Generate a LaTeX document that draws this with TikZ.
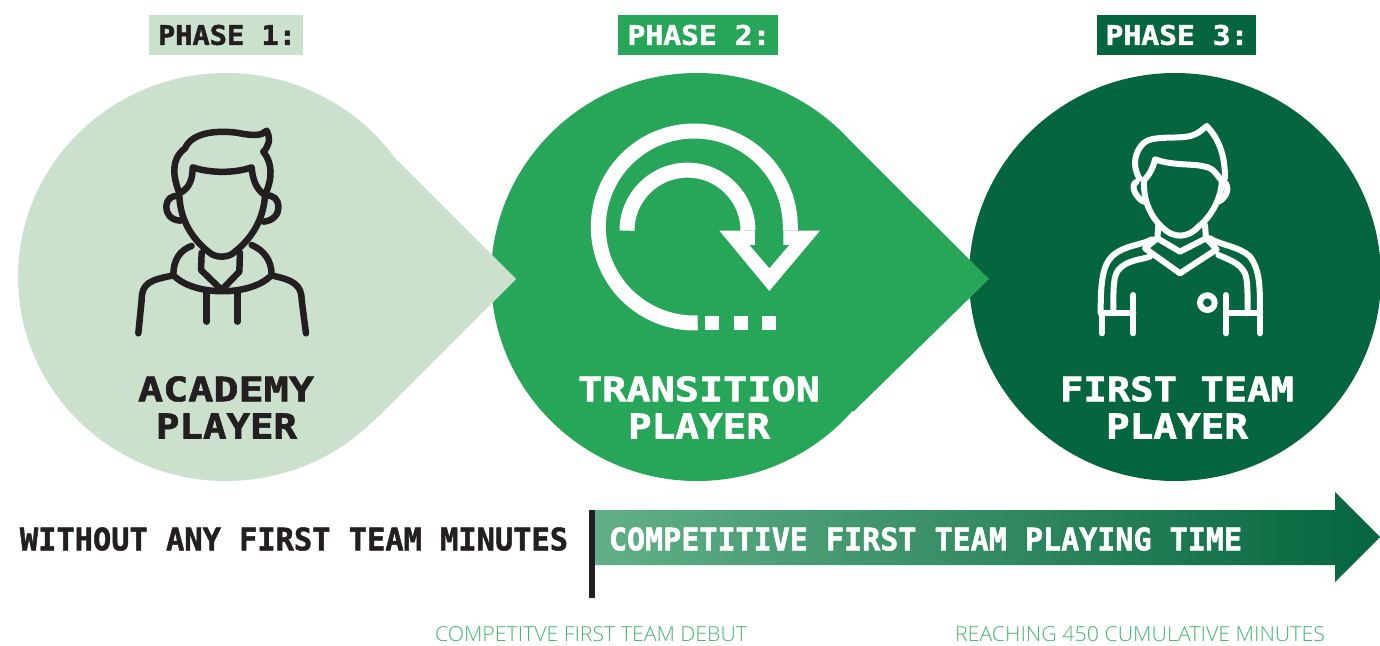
\documentclass[tikz,border=0pt]{standalone}
\usepackage{fontspec}
\setmainfont{Open Sans Light}
\newfontfamily\blockfont{DejaVu Sans Mono Bold}[FakeBold=1.6]
\definecolor{lightg}{HTML}{CCE1CD}
\definecolor{midg}{HTML}{27A558}
\definecolor{darkg}{HTML}{05653E}
\definecolor{inkc}{HTML}{231F20}
\definecolor{thing}{HTML}{45B472}
\definecolor{barl}{HTML}{62B088}
\newcommand{\fitblock}[3]{\resizebox{#1pt}{#2pt}{\blockfont #3}}
\newcommand{\fitthin}[3]{\resizebox{#1pt}{#2pt}{#3}}
\tikzset{
 lbl/.style={inner sep=0pt,outer sep=0pt,anchor=center},
 phasebox/.style={inner sep=0pt,minimum height=40pt,anchor=center},
 iconline/.style={line cap=round,line join=round,fill=none},
}
\begin{document}
\begin{tikzpicture}[x=1pt,y=-1pt]
\useasboundingbox (0,0) rectangle (1380,645);
% drops, back to front
\fill[darkg] (1175,277) ellipse [x radius=206,y radius=204];
\fill[midg] (697,277) ellipse [x radius=206,y radius=204];
\fill[midg] (850,140.5) -- (989,279) -- (853,412) -- cycle;
\fill[lightg] (226,277) ellipse [x radius=208,y radius=204];
\fill[lightg] (373,136) -- (516,279) -- (378,417) -- cycle;
% phase labels
\node[phasebox,fill=lightg,minimum width=154pt] (p1) at (226,35) {};
\node[phasebox,fill=midg,minimum width=160pt] (p2) at (698,35) {};
\node[phasebox,fill=darkg,minimum width=159pt] (p3) at (1176.5,35) {};
\node[lbl,text=inkc] (p1t) at (227,35) {\fitblock{138}{20}{PHASE 1:}};
\node[lbl,text=white] (p2t) at (699,35) {\fitblock{143}{20}{PHASE 2:}};
\node[lbl,text=white] (p3t) at (1177,35) {\fitblock{143}{20}{PHASE 3:}};
% academy player icon
\begin{scope}[shift={(120,110)},scale=0.3333,iconline,draw=inkc,line width=6.5pt]
\draw (178,250) .. controls (160,200) and (150,150) .. (195,115)
  .. controls (215,70) and (280,60) .. (350,68) .. controls (400,78) and (425,78) .. (440,62)
  .. controls (452,85) and (448,108) .. (430,125) .. controls (458,160) and (458,205) .. (435,255);
\draw (178,250) .. controls (210,235) and (218,205) .. (218,172)
  .. controls (270,190) and (345,190) .. (395,172) .. controls (398,210) and (410,240) .. (435,255);
\draw (178,260) .. controls (182,330) and (215,385) .. (265,425)
  .. controls (285,445) and (325,445) .. (345,425) .. controls (395,385) and (430,330) .. (435,258);
\draw (178,260) .. controls (130,245) and (120,330) .. (182,332);
\draw (435,258) .. controls (485,245) and (495,330) .. (430,335);
\draw (215,408) .. controls (180,420) and (160,450) .. (160,495)
  .. controls (220,560) and (395,560) .. (455,495) .. controls (455,450) and (430,420) .. (395,405);
\draw (245,428) -- (243,480) -- (305,540) -- (358,485) -- (360,428);
\draw (260,545) -- (260,635);
\draw (352,545) -- (352,635);
\draw (157,497) .. controls (90,510) and (65,520) .. (65,570) -- (55,670);
\draw (457,497) .. controls (520,510) and (545,525) .. (545,570) -- (558,670);
\end{scope}
% transition icon
\begin{scope}[shift={(580,110)},scale=0.3333]
\draw[white,line width=15pt] (631,362) -- (631,351) arc [start angle=0,end angle=-272,radius=288];
\draw[white,line width=15pt] (141,362) arc [start angle=-180,end angle=0,radius=181.5];
\fill[white] (418,362) -- (525,362) -- (525,405) -- (508,405) -- (568,475) -- (628,405)
  -- (610,405) -- (610,362) -- (720,362) -- (568,543) -- cycle;
\fill[white] (376,618) rectangle (418,660);
\fill[white] (463,618) rectangle (505,660);
\fill[white] (547,618) rectangle (589,660);
\end{scope}
% first team player icon
\begin{scope}[shift={(1080,110)},scale=0.3333,iconline,draw=white,line width=6pt]
\draw (178,205) .. controls (155,165) and (165,125) .. (190,100)
  .. controls (215,75) and (290,88) .. (330,78) .. controls (355,72) and (365,60) .. (380,48)
  .. controls (420,90) and (435,140) .. (435,205);
\draw (190,212) .. controls (210,195) and (220,170) .. (225,148)
  .. controls (280,168) and (340,160) .. (375,170) .. controls (405,175) and (412,200) .. (428,215);
\draw (192,215) .. controls (190,270) and (210,320) .. (250,355)
  .. controls (280,385) and (325,385) .. (355,350) .. controls (395,320) and (425,260) .. (425,215);
\draw (170,215) .. controls (150,225) and (165,260) .. (190,275);
\draw (432,215) .. controls (452,230) and (440,265) .. (415,275);
\draw (235,345) -- (232,385) -- (300,425) -- (378,385) -- (375,345);
\draw (232,385) -- (195,415) -- (300,490) -- (410,418) -- (378,385);
\draw (215,388) .. controls (190,405) and (130,405) .. (95,440)
  .. controls (65,470) and (62,530) .. (62,610);
\draw (210,440) .. controls (180,450) and (140,450) .. (115,480)
  .. controls (100,500) and (100,530) .. (100,610);
\draw (390,385) .. controls (420,405) and (480,410) .. (510,440)
  .. controls (540,480) and (540,530) .. (540,610);
\draw (415,435) .. controls (450,450) and (480,460) .. (495,490)
  .. controls (503,510) and (503,550) .. (503,610);
\draw (65,610) -- (160,610);
\draw (65,610) -- (65,670);
\draw (160,555) -- (160,670);
\draw (438,555) -- (438,670);
\draw (438,610) -- (540,610) -- (540,670);
\draw (382,578) circle [radius=22];
\end{scope}
% phase titles
\node[lbl,text=inkc] (a1) at (226,389) {\fitblock{176}{25}{ACADEMY}};
\node[lbl,text=inkc] (a2) at (226.5,426) {\fitblock{141}{25}{PLAYER}};
\node[lbl,text=white] (b1) at (699,389) {\fitblock{242}{25}{TRANSITION}};
\node[lbl,text=white] (b2) at (699,426) {\fitblock{142}{25}{PLAYER}};
\node[lbl,text=white] (c1) at (1177,389) {\fitblock{234}{25}{FIRST TEAM}};
\node[lbl,text=white] (c2) at (1177,426) {\fitblock{142}{25}{PLAYER}};
% timeline
\shade[left color=barl,right color=darkg] (592,510) -- (1335,510) -- (1335,492) -- (1380,537)
  -- (1335,582) -- (1335,565) -- (592,565) -- cycle;
\fill[inkc] (589,510) rectangle (595,598);
\node[lbl,text=inkc] (w) at (294,539) {\fitblock{548}{23}{WITHOUT ANY FIRST TEAM MINUTES}};
\node[lbl,text=white] (t) at (925.5,539) {\fitblock{633}{23}{COMPETITIVE FIRST TEAM PLAYING TIME}};
\node[lbl,text=thing] (d1) at (591,634.5) {\fitthin{312}{15}{COMPETITVE FIRST TEAM DEBUT}};
\node[lbl,text=thing] (d2) at (1140,634.5) {\fitthin{370}{15}{REACHING 450 CUMULATIVE MINUTES}};
\end{tikzpicture}
\end{document}
